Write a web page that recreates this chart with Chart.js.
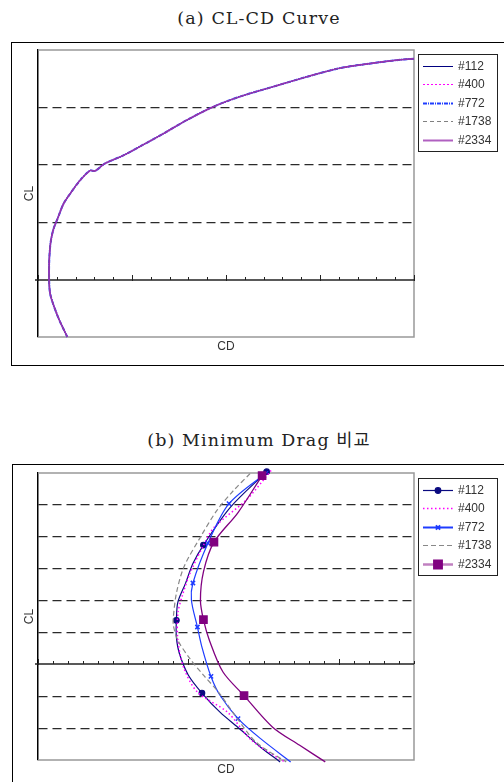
<!DOCTYPE html>
<html>
<head>
<meta charset="utf-8">
<script src="https://cdn.jsdelivr.net/npm/chart.js@4.4.1/dist/chart.umd.min.js"></script>
<style>
  body { margin: 0; background: #fff; width: 504px; height: 782px; overflow: hidden; position: relative; }
  .ttl { position: absolute; left: 0; width: 518px; text-align: center; font: 17.5px/22px "DejaVu Serif", "Noto Sans CJK KR", serif; letter-spacing: 1.1px; color: #222; }
  .box { position: absolute; border: 1.5px solid #000; background: #fff; }
  canvas { position: absolute; }
</style>
</head>
<body>
<div class="ttl" style="top:7px">(a) CL-CD Curve</div>
<div class="box" style="left:11px; top:42px; width:600px; height:322px"></div>
<canvas id="chartA" width="491" height="320" style="left:13px; top:44px"></canvas>

<div class="ttl" style="top:429px">(b) Minimum Drag 비교</div>
<div class="box" style="left:12px; top:464px; width:600px; height:400px"></div>
<canvas id="chartB" width="491" height="316" style="left:13px; top:466px"></canvas>

<script>
// Series names
const names = ['#112', '#400', '#772', '#1738', '#2334'];

// (a) CL-CD curve - all five runs overlap
const cdA = [0.0156, 0.0113, 0.0082, 0.0064, 0.0059, 0.0060, 0.0067, 0.0082, 0.0103, 0.0135, 0.0170, 0.0223, 0.0277, 0.0303,
             0.0355, 0.0454, 0.0560, 0.0667, 0.0791, 0.0933, 0.1074, 0.1252, 0.1429, 0.1606, 0.1784, 0.1926, 0.2000];
const clA = [-0.500, -0.351, -0.219, -0.117, 0.006, 0.175, 0.322, 0.439, 0.526, 0.658, 0.746, 0.863, 0.950, 0.946,
             1.010, 1.082, 1.175, 1.272, 1.389, 1.506, 1.594, 1.681, 1.766, 1.842, 1.886, 1.915, 1.924];

// (b) Minimum drag comparison
const cd112 = [0.0252, 0.0228, 0.0210, 0.0203, 0.0198, 0.0193, 0.0192, 0.0192, 0.0194, 0.0200, 0.0209, 0.0221, 0.0234, 0.0248, 0.0261];
const cl112 = [0.604, 0.493, 0.374, 0.316, 0.253, 0.195, 0.138, 0.086, 0.034, -0.034, -0.090, -0.150, -0.202, -0.260, -0.306];
const mk112 = [0, 2, 6, 10];

const cd400 = [0.0255, 0.0239, 0.0217, 0.0210, 0.0201, 0.0196, 0.0193, 0.0193, 0.0197, 0.0206, 0.0226, 0.0242, 0.0264];
const cl400 = [0.608, 0.518, 0.429, 0.373, 0.285, 0.216, 0.160, 0.075, -0.012, -0.087, -0.150, -0.238, -0.306];

const cd772 = [0.0253, 0.0227, 0.0213, 0.0203, 0.0202, 0.0206, 0.0209, 0.0215, 0.0221, 0.0233, 0.0248, 0.0268];
const cl772 = [0.605, 0.504, 0.380, 0.255, 0.201, 0.117, 0.054, -0.038, -0.097, -0.170, -0.233, -0.306];
const mk772 = [1, 2, 3, 5, 7, 9];

const cd1738 = [0.0241, 0.0230, 0.0219, 0.0208, 0.0197, 0.0192, 0.0190, 0.0190, 0.0193, 0.0201, 0.0210, 0.0220, 0.0231, 0.0245, 0.0265];
const cl1738 = [0.598, 0.545, 0.483, 0.399, 0.305, 0.222, 0.148, 0.122, 0.075, 0.018, -0.034, -0.087, -0.160, -0.244, -0.306];

const cd2334 = [0.0249, 0.0233, 0.0217, 0.0210, 0.0208, 0.0210, 0.0214, 0.0223, 0.0237, 0.0256, 0.0274, 0.0291];
const cl2334 = [0.592, 0.476, 0.383, 0.290, 0.200, 0.140, 0.075, -0.024, -0.098, -0.197, -0.254, -0.306];
const mk2334 = [0, 2, 5, 8];

const pts = (xs, ys) => xs.map((v, i) => ({ x: v, y: ys[i] }));
const marks = (n, idx, r) => Array.from({ length: n }, (_, i) => idx.includes(i) ? r : 0);

// frame, zero line with ticks, axis labels and boxed legend
const framePlugin = {
  id: 'frame',
  beforeDatasetsDraw(chart, args, opts) {
    const { ctx, chartArea: a, scales: { x, y } } = chart;
    ctx.save();
    ctx.strokeStyle = '#999';
    ctx.lineWidth = 1.5;
    ctx.beginPath();
    ctx.moveTo(a.left, a.top); ctx.lineTo(a.right, a.top);
    ctx.lineTo(a.right, a.bottom); ctx.lineTo(a.left, a.bottom);
    ctx.stroke();
    const y0 = Math.round(y.getPixelForValue(0));
    ctx.strokeStyle = '#222';
    ctx.beginPath(); ctx.moveTo(a.left - 3, y0); ctx.lineTo(a.right, y0); ctx.stroke();
    ctx.lineWidth = 1;
    const n = Math.round((x.max - x.min) / opts.minor);
    for (let i = 0; i <= n; i++) {
      const px = Math.round(x.getPixelForValue(x.min + i * opts.minor)) + 0.5;
      const major = i % opts.every === 0;
      ctx.beginPath();
      ctx.moveTo(px, y0 - (major ? 5 : 3));
      ctx.lineTo(px, y0 + (major ? 1 : 0));
      ctx.stroke();
    }
    ctx.restore();
  },
  afterDraw(chart, args, opts) {
    const { ctx, chartArea: a } = chart;
    ctx.save();
    ctx.font = '12px "Liberation Sans", Arial, sans-serif';
    ctx.fillStyle = '#333';
    ctx.textAlign = 'center';
    ctx.textBaseline = 'middle';
    ctx.fillText('CD', (a.left + a.right) / 2, a.bottom + 10);
    ctx.translate(a.left - 8, (a.top + a.bottom) / 2);
    ctx.rotate(-Math.PI / 2);
    ctx.fillText('CL', 0, 0);
    ctx.restore();

    // legend box
    const bx = a.right + 4, by = a.top + opts.legendTop;
    ctx.save();
    ctx.fillStyle = '#fff';
    ctx.fillRect(bx, by, 79, 97);
    ctx.strokeStyle = '#222';
    ctx.lineWidth = 1;
    ctx.strokeRect(bx + 0.5, by + 0.5, 79, 97);
    ctx.font = '12px "Liberation Sans", Arial, sans-serif';
    ctx.textBaseline = 'middle';
    chart.data.datasets.forEach((ds, i) => {
      const ly = Math.round(by + 11.5 + i * 18.5) + 0.5;
      ctx.strokeStyle = ds.legendColor || ds.borderColor;
      ctx.lineWidth = ds.legendWidth || ds.borderWidth;
      ctx.setLineDash(ds.borderDash || []);
      ctx.beginPath(); ctx.moveTo(bx + 5, ly); ctx.lineTo(bx + 35, ly); ctx.stroke();
      ctx.setLineDash([]);
      if (ds.legendMarker) {
        ctx.fillStyle = ds.pointBackgroundColor;
        ctx.strokeStyle = ds.pointBorderColor;
        Chart.helpers.drawPoint(ctx, { pointStyle: ds.pointStyle, radius: ds.legendMarker, rotation: 0, borderWidth: ds.pointBorderWidth || 1 }, bx + 20, ly);
      }
      ctx.fillStyle = '#333';
      ctx.fillText(ds.label, bx + 40, ly);
    });
    ctx.restore();
  }
};

function gridColor(c) {
  const v = c.tick.value, s = c.scale;
  if (Math.abs(v) < 1e-9 || Math.abs(v - s.min) < 1e-9 || Math.abs(v - s.max) < 1e-9) return 'rgba(0,0,0,0)';
  return '#2a2a2a';
}

function baseOptions(xMin, xMax, yMin, yMax, yStep, pad, frame) {
  return {
    responsive: false,
    animation: false,
    devicePixelRatio: 1,
    layout: { padding: pad },
    plugins: { legend: { display: false }, tooltip: { enabled: false }, frame: frame },
    scales: {
      x: { type: 'linear', min: xMin, max: xMax, display: false },
      y: {
        type: 'linear', min: yMin, max: yMax,
        ticks: { display: false, stepSize: yStep },
        grid: { color: gridColor, lineWidth: 1.2, drawTicks: false },
        border: { display: true, color: '#000', width: 1.5, dash: [9, 5] }
      }
    }
  };
}

const styleA = [
  { borderColor: '#000080', borderWidth: 1 },
  { borderColor: '#ff00ff', borderWidth: 1, borderDash: [2, 2] },
  { borderColor: '#1e3cff', borderWidth: 2, borderDash: [4, 1, 1, 1] },
  { borderColor: '#808080', borderWidth: 1, borderDash: [4, 3] },
  { borderColor: '#9933aa', borderWidth: 1.5, legendColor: '#b060c0', legendWidth: 2 }
];

new Chart(document.getElementById('chartA'), {
  type: 'scatter',
  data: {
    datasets: names.map((n, i) => Object.assign({
      label: n, data: pts(cdA, clA), showLine: true, tension: 0.3, pointRadius: 0,
      order: 5 - i, clip: 4
    }, styleA[i]))
  },
  options: baseOptions(0, 0.2, -0.5, 2.0, 0.5, { left: 25, top: 6, right: 90, bottom: 27 },
    { minor: 0.01, every: 5, legendTop: 4 }),
  plugins: [framePlugin]
});

new Chart(document.getElementById('chartB'), {
  type: 'scatter',
  data: {
    datasets: [
      { label: names[0], data: pts(cd112, cl112), borderColor: '#0a0a80', borderWidth: 1.2,
        pointStyle: 'circle', pointRadius: marks(cd112.length, mk112, 2.8), legendMarker: 2.8,
        pointBackgroundColor: '#0a0a80', pointBorderColor: '#0a0a80', order: 5 },
      { label: names[1], data: pts(cd400, cl400), borderColor: '#ff00ff', borderWidth: 1.5,
        borderDash: [1.5, 2.5], pointRadius: 0, order: 4 },
      { label: names[2], data: pts(cd772, cl772), borderColor: '#1e3cff', borderWidth: 1.2,
        pointStyle: 'crossRot', pointRadius: marks(cd772.length, mk772, 3), legendMarker: 3,
        pointBackgroundColor: '#1e3cff', pointBorderColor: '#1e3cff', pointBorderWidth: 1.5,
        legendWidth: 2, order: 3 },
      { label: names[3], data: pts(cd1738, cl1738), borderColor: '#888', borderWidth: 1.2,
        borderDash: [5, 3], pointRadius: 0, order: 2 },
      { label: names[4], data: pts(cd2334, cl2334), borderColor: '#800080', borderWidth: 1.3,
        pointStyle: 'rect', pointRadius: marks(cd2334.length, mk2334, 5.2), legendMarker: 5.2,
        pointBackgroundColor: '#800080', pointBorderColor: '#800080',
        legendColor: '#c080c0', legendWidth: 2.5, order: 1 }
    ].map(ds => Object.assign(ds, { showLine: true, tension: 0.3, clip: 6 }))
  },
  options: baseOptions(0.010, 0.035, -0.3, 0.6, 0.1, { left: 25, top: 7, right: 90, bottom: 22 },
    { minor: 0.001, every: 10, legendTop: 5 }),
  plugins: [framePlugin]
});
</script>
</body>
</html>
